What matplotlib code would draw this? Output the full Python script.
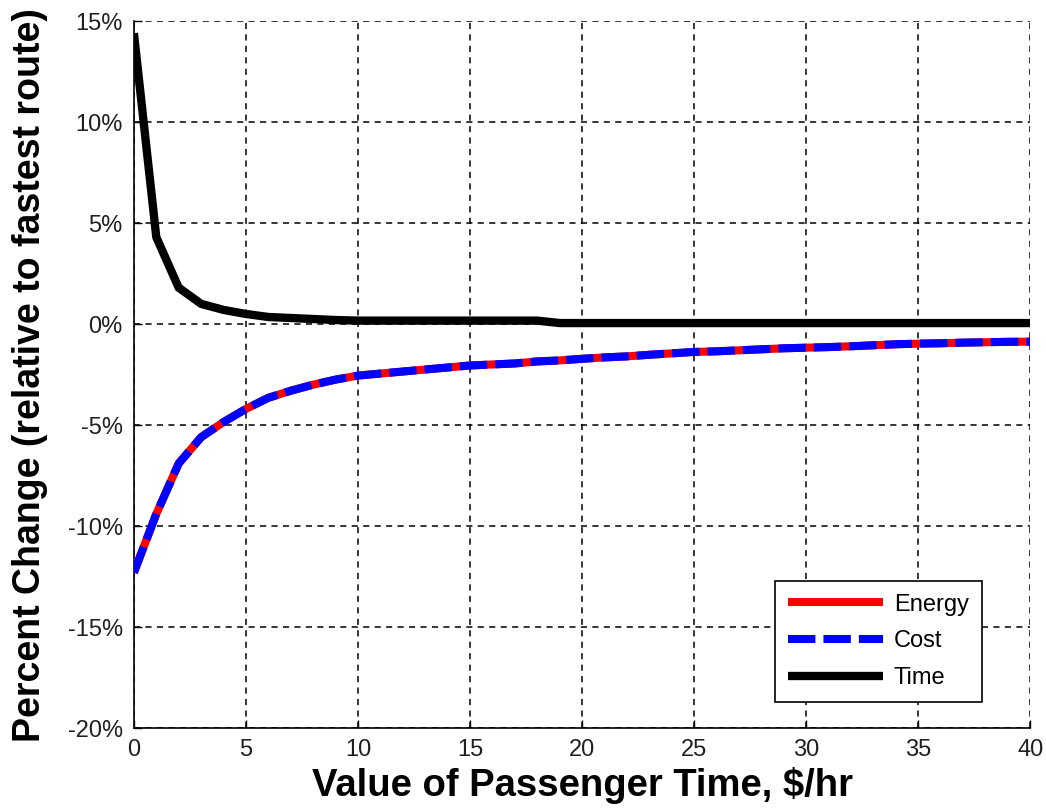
# plot.py
# Percent change vs value of passenger time (energy / cost / time curves)

import matplotlib
matplotlib.use("Agg")
import matplotlib.pyplot as plt

plt.rcParams["font.family"] = ["Liberation Sans", "DejaVu Sans"]

# ---- data ----
value_of_time = list(range(0, 41))

energy_pct = [-12.3, -9.4, -6.9, -5.6, -4.85, -4.2, -3.65, -3.3, -3.0, -2.75,
              -2.55, -2.45, -2.35, -2.25, -2.15, -2.05, -2.0, -1.95, -1.85, -1.8,
              -1.72, -1.65, -1.6, -1.52, -1.45, -1.38, -1.35, -1.3, -1.25, -1.2,
              -1.17, -1.14, -1.1, -1.05, -1.0, -0.97, -0.95, -0.92, -0.9, -0.88,
              -0.87]
cost_pct = list(energy_pct)

time_pct = [14.4, 4.3, 1.8, 1.0, 0.7, 0.5, 0.35, 0.3, 0.25, 0.2,
            0.17, 0.17, 0.17, 0.17, 0.17, 0.17, 0.17, 0.17, 0.17, 0.05,
            0.05, 0.05, 0.05, 0.05, 0.05, 0.05, 0.05, 0.05, 0.05, 0.05,
            0.05, 0.05, 0.05, 0.05, 0.05, 0.05, 0.05, 0.05, 0.05, 0.05,
            0.05]

x_ticks = [0, 5, 10, 15, 20, 25, 30, 35, 40]
y_ticks = [-20, -15, -10, -5, 0, 5, 10, 15]
y_tick_labels = [f"{v}%" for v in y_ticks]


def plot():
    fig = plt.figure(figsize=(10.46, 8.09), dpi=100)
    ax = fig.add_axes([0.128, 0.100, 0.857, 0.874])

    ax.plot(value_of_time, energy_pct, color="red", lw=5.8, label="Energy",
            solid_capstyle="butt", zorder=3)
    ax.plot(value_of_time, cost_pct, color="blue", lw=5.8, label="Cost",
            dashes=(3.4, 1.0), dash_capstyle="butt", zorder=4)
    ax.plot(value_of_time, time_pct, color="black", lw=6.0, label="Time",
            solid_capstyle="butt", zorder=5)

    ax.set_xlim(0, 40)
    ax.set_ylim(-20, 15)
    ax.set_xticks(x_ticks)
    ax.set_yticks(y_ticks)
    ax.set_yticklabels(y_tick_labels)
    ax.tick_params(direction="in", length=6, width=1, labelsize=17,
                   labelcolor="#202020")
    ax.tick_params(axis="x", pad=8)
    ax.tick_params(axis="y", pad=8)

    ax.grid(True, color="black", linestyle=(0, (4, 3.5)), lw=1.1)
    ax.set_axisbelow(True)
    for side in ("top", "right"):
        ax.spines[side].set_visible(False)
    for side in ("left", "bottom"):
        ax.spines[side].set_linewidth(1.2)

    ax.set_xlabel("Value of Passenger Time, $/hr", fontsize=27.5, fontweight="bold",
                  labelpad=4)
    ax.set_ylabel("Percent Change (relative to fastest route)", fontsize=27,
                  fontweight="bold", labelpad=14)

    leg = ax.legend(loc="lower right", bbox_to_anchor=(0.946, 0.037),
                    borderaxespad=0, fontsize=17, fancybox=False,
                    edgecolor="black", framealpha=1, handlelength=4.0,
                    handletextpad=0.47, labelspacing=0.62, borderpad=0.55)
    leg.get_frame().set_linewidth(1.2)

    fig.savefig("out.png", dpi=100)


if __name__ == "__main__":
    plot()
